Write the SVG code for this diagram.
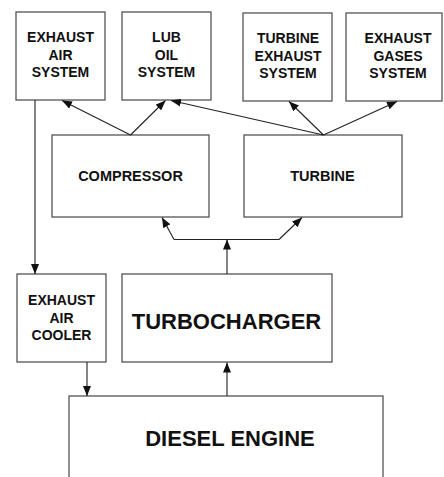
<svg xmlns="http://www.w3.org/2000/svg" width="444" height="477" viewBox="0 0 444 477">
<defs>
<marker id="ah" markerUnits="userSpaceOnUse" markerWidth="10" markerHeight="8" refX="10" refY="4" orient="auto">
<path d="M0,0 L10,4 L0,8 z" fill="#111"/>
</marker>
<style>
.box{fill:#fff;stroke:#555;stroke-width:1.3}
.t{font-family:"Liberation Sans",Arial,sans-serif;font-weight:bold;fill:#111;text-anchor:middle}
.s{font-size:14px}
.m{font-size:14.5px}
.l{font-size:22px}
.c{stroke:#222;stroke-width:1.1;fill:none}
.a{marker-end:url(#ah)}
</style>
</defs>
<rect width="444" height="477" fill="#fff"/>
<g id="exhaust-air-system"><rect class="box" x="16" y="12" width="89" height="88"/>
<text class="t s" x="60.5" y="42">EXHAUST</text><text class="t s" x="60.5" y="59.5">AIR</text><text class="t s" x="60.5" y="77">SYSTEM</text></g>
<g id="lub-oil-system"><rect class="box" x="122" y="12" width="89" height="88"/>
<text class="t s" x="166.5" y="42">LUB</text><text class="t s" x="166.5" y="59.5">OIL</text><text class="t s" x="166.5" y="77">SYSTEM</text></g>
<g id="turbine-exhaust-system"><rect class="box" x="243" y="13" width="89" height="88"/>
<text class="t s" x="288" y="43">TURBINE</text><text class="t s" x="288" y="60.5">EXHAUST</text><text class="t s" x="288" y="78">SYSTEM</text></g>
<g id="exhaust-gases-system"><rect class="box" x="346" y="13" width="96" height="88"/>
<text class="t s" x="398" y="43">EXHAUST</text><text class="t s" x="398" y="60.5">GASES</text><text class="t s" x="398" y="78">SYSTEM</text></g>
<g id="compressor"><rect class="box" x="52" y="135" width="157" height="82"/>
<text class="t m" x="130.5" y="180.5">COMPRESSOR</text></g>
<g id="turbine"><rect class="box" x="244" y="135" width="158" height="82"/>
<text class="t m" x="322.5" y="180.5">TURBINE</text></g>
<g id="exhaust-air-cooler"><rect class="box" x="17" y="274" width="89" height="88"/>
<text class="t s" x="61.5" y="305">EXHAUST</text><text class="t s" x="61.5" y="322.5">AIR</text><text class="t s" x="61.5" y="340">COOLER</text></g>
<g id="turbocharger"><rect class="box" x="122" y="274" width="210" height="88"/>
<text class="t l" x="226.5" y="329">TURBOCHARGER</text></g>
<g id="diesel-engine"><rect class="box" x="69" y="396" width="314" height="90"/>
<text class="t l" x="230" y="445.5">DIESEL ENGINE</text></g>
<g id="connectors">
<line class="c a" x1="130.5" y1="135" x2="62" y2="100.5"/>
<line class="c a" x1="130.5" y1="135" x2="165.5" y2="100.5"/>
<line class="c a" x1="323.5" y1="135" x2="171" y2="100.5"/>
<line class="c a" x1="323.5" y1="135" x2="289" y2="101.5"/>
<line class="c a" x1="323.5" y1="135" x2="397" y2="101.5"/>
<line class="c a" x1="35" y1="100" x2="35" y2="274"/>
<line class="c a" x1="87" y1="362" x2="87" y2="396"/>
<line class="c a" x1="227" y1="396" x2="227" y2="362.5"/>
<line class="c a" x1="227" y1="274" x2="227" y2="239.5"/>
<line class="c" x1="174" y1="239.5" x2="279" y2="239.5"/>
<line class="c a" x1="174" y1="239.5" x2="162" y2="217.5"/>
<line class="c a" x1="279" y1="239.5" x2="302" y2="217.5"/>
</g>
</svg>
